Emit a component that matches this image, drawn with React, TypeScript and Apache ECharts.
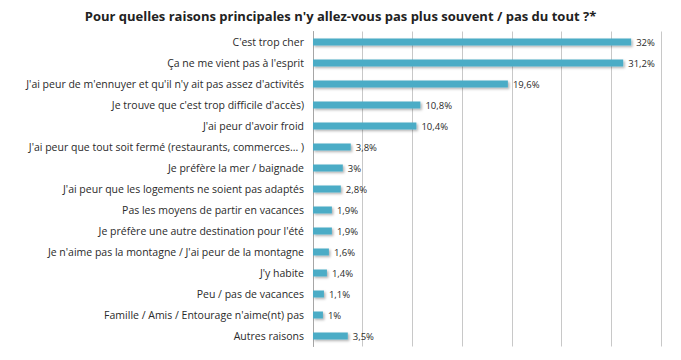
import React, { useEffect, useRef } from "react";
import * as echarts from "echarts";

const title = "Pour quelles raisons principales n'y allez-vous pas plus souvent / pas du tout ?*";
const categories = [
  "C'est trop cher",
  "Ça ne me vient pas à l'esprit",
  "J'ai peur de m'ennuyer et qu'il n'y ait pas assez d'activités",
  "Je trouve que c'est trop difficile d'accès)",
  "J'ai peur d'avoir froid",
  "J'ai peur que tout soit fermé (restaurants, commerces... )",
  "Je préfère la mer / baignade",
  "J'ai peur que les logements ne soient pas adaptés",
  "Pas les moyens de partir en vacances",
  "Je préfère une autre destination pour l'été",
  "Je n'aime pas la montagne / J'ai peur de la montagne",
  "J'y habite",
  "Peu / pas de vacances",
  "Famille / Amis / Entourage n'aime(nt) pas",
  "Autres raisons",
];
const values = [32, 31.2, 19.6, 10.8, 10.4, 3.8, 3, 2.8, 1.9, 1.9, 1.6, 1.4, 1.1, 1, 3.5];

export default function App() {
  const ref = useRef<HTMLDivElement>(null);
  useEffect(() => {
    const chart = echarts.init(ref.current!, null, { renderer: "svg" });
    chart.setOption({
      animation: false,
      title: {
        text: title,
        left: "center",
        top: 4,
        textStyle: { fontFamily: "Open Sans", fontSize: 13, fontWeight: "bold", color: "#222" },
      },
      grid: { left: 313, right: 20, top: 31.5, bottom: 13.5, containLabel: false },
      xAxis: {
        type: "value",
        min: 0,
        max: 35,
        interval: 5,
        axisLabel: { show: false },
        axisLine: { show: false },
        axisTick: { show: false },
        splitLine: { lineStyle: { color: "#c8c8c8", width: 1 } },
      },
      yAxis: {
        type: "category",
        inverse: true,
        data: categories,
        axisTick: { show: false },
        axisLine: { lineStyle: { color: "#a6a6a6" } },
        axisLabel: {
          fontFamily: "Open Sans",
          fontSize: 10.5,
          color: "#2a2a2a",
          margin: 9,
        },
      },
      series: [
        {
          type: "bar",
          data: values,
          barWidth: 7,
          itemStyle: {
            color: "#4bacc6",
            shadowColor: "rgba(0,0,0,0.3)",
            shadowBlur: 2,
            shadowOffsetX: 1.5,
            shadowOffsetY: 1.5,
          },
          label: {
            show: true,
            position: "right",
            distance: 5,
            fontFamily: "Open Sans",
            fontSize: 9.5,
            color: "#2a2a2a",
            formatter: (p: any) => String(p.value).replace(".", ",") + "%",
          },
        },
      ],
    });
    return () => chart.dispose();
  }, []);
  return <div ref={ref} style={{ width: 681, height: 360, position: "absolute", left: 0, top: 0, background: "#fff" }} />;
}
